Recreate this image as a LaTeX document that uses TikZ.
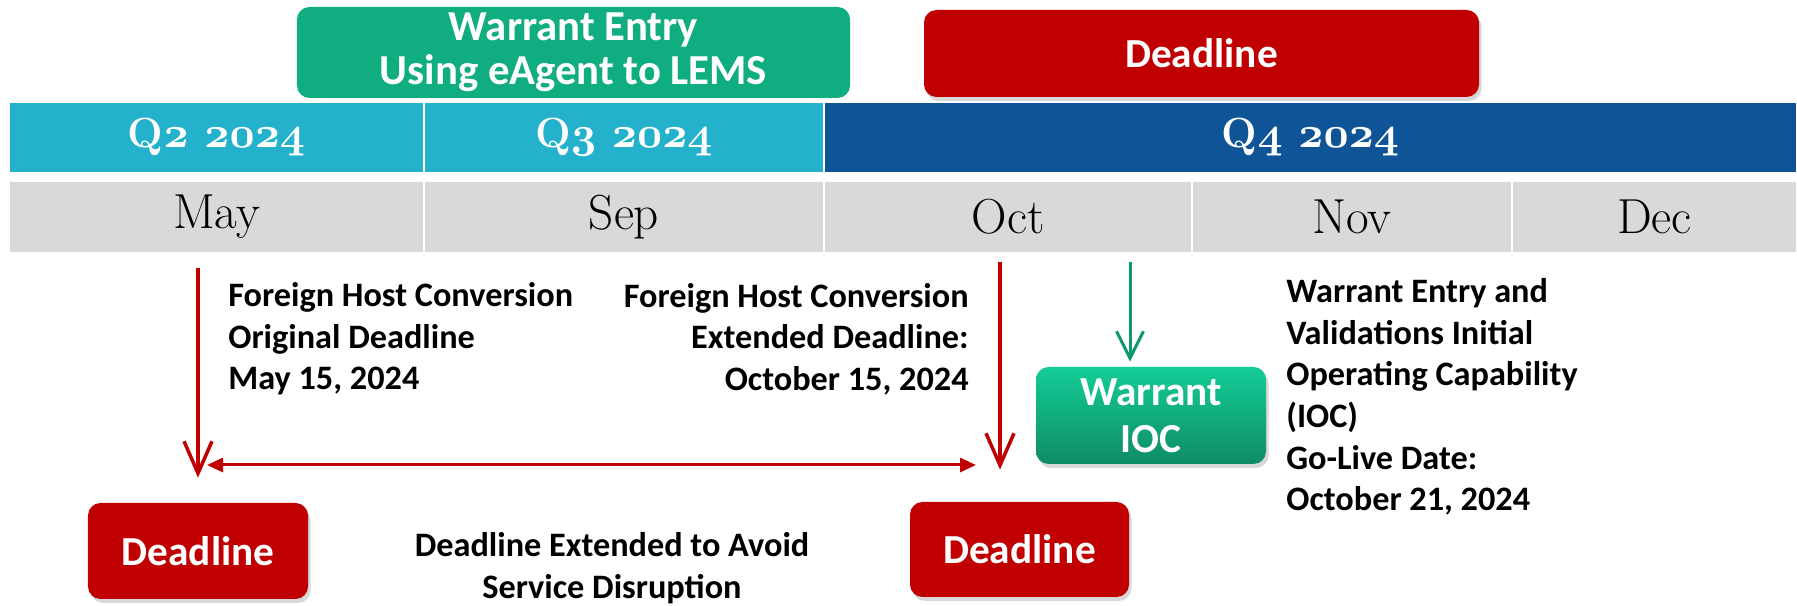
\documentclass[tikz,border=0pt]{standalone}
\usepackage{fontspec}
\newfontfamily\calib{Carlito}
\usetikzlibrary{arrows.meta}
\usetikzlibrary{shadows}
\definecolor{wgreen}{RGB}{16,173,128}
\definecolor{dred}{RGB}{192,0,0}
\definecolor{qblue}{RGB}{35,177,203}
\definecolor{qdark}{RGB}{14,84,150}
\definecolor{mgray}{RGB}{217,217,217}
\definecolor{agreen}{RGB}{14,152,110}
\definecolor{iochi}{RGB}{20,205,150}
\definecolor{ioclo}{RGB}{14,140,102}
% old style digits for the quarter labels
\newcommand{\osn}[1]{{\fontencoding{OML}\fontfamily{cmm}\fontseries{b}\fontshape{it}\selectfont #1}}
\tikzset{
  qcell/.style={fill=#1, draw=white, line width=0.4mm, minimum height=14.2mm, inner sep=0,
    text=white, font={\fontsize{24}{24}\selectfont\bfseries}},
  mcell/.style={fill=mgray, draw=white, line width=0.4mm, minimum height=14.4mm, inner sep=0,
    font={\fontsize{28}{28}\selectfont}},
  box/.style={rounded corners=2.5mm, text=white, inner sep=0, align=center,
    font={\calib\bfseries\fontsize{23.5}{25}\selectfont}},
  shad/.style={drop shadow={shadow xshift=0.5mm, shadow yshift=-0.8mm, opacity=0.3}},
  dlbox/.style={box, shad, fill=dred},
  note/.style={inner sep=0, font={\calib\bfseries\fontsize{19.5}{23.7}\selectfont}},
  redarrow/.style={draw=dred, line width=0.7mm, -{Straight Barb[length=6.4mm,width=5.6mm]}},
  greenarrow/.style={draw=agreen, line width=0.6mm, -{Straight Barb[length=5.4mm,width=5.4mm]}},
  extarrow/.style={draw=dred, line width=0.6mm, {Triangle[length=3.2mm,width=2.8mm]}-{Triangle[length=3.2mm,width=2.8mm]}}
}

\begin{document}
\begin{tikzpicture}[x=0.2mm, y=-0.2mm]
  \fill[white] (0,0) rectangle (1797,606);
  \useasboundingbox (0,0) rectangle (1797,606);

  % top boxes
  \node[box, fill=wgreen, minimum width=110.6mm, minimum height=18.2mm,
    font={\calib\bfseries\fontsize{24.3}{25}\selectfont}] (entry) at (573.5,52.5)
    {Warrant Entry\\Using eAgent to LEMS};
  \node[dlbox, minimum width=111mm, minimum height=17.4mm] (dltop) at (1201.5,53.5) {Deadline};

  % quarters
  \node[qcell=qblue, minimum width=83mm] (q2) at (216.5,137.5) {Q\osn{2} \osn{2024}};
  \node[qcell=qblue, minimum width=80mm] (q3) at (624,137.5) {Q\osn{3} \osn{2024}};
  \node[qcell=qdark, minimum width=194.6mm] (q4) at (1310.5,137.5) {Q\osn{4} \osn{2024}};

  % months
  \foreach \nm/\lbl/\xa/\xb in {may/May/9/424, sep/Sep/424/824, oct/Oct/824/1192,
      nov/Nov/1192/1512, dec/Dec/1512/1797}
    \node[mcell, minimum width={(\xb-\xa)*0.2mm}] (\nm) at ({(\xa+\xb)/2},217) {\lbl};

  % notes
  \node[note, anchor=west, align=left] (orig) at (228,339)
    {Foreign Host Conversion\\Original Deadline\\May 15, 2024};
  \node[note, anchor=east, align=right] (ext) at (969,339)
    {Foreign Host Conversion\\Extended Deadline:\\October 15, 2024};
  \node[note, anchor=west, align=left] (golive) at (1286,397)
    {Warrant Entry and\\Validations Initial\\Operating Capability\\(IOC)\\Go-Live Date:\\October 21, 2024};
  \node[note, align=center] (why) at (612,568) {Deadline Extended to Avoid\\Service Disruption};

  % lower boxes
  \node[dlbox, minimum width=44mm, minimum height=19.2mm] (dlmay) at (198,551) {Deadline};
  \node[dlbox, minimum width=43.8mm, minimum height=19mm] (dloct) at (1019.5,549.5) {Deadline};
  \node[box, shad, top color=iochi, bottom color=ioclo, minimum width=46mm, minimum height=19.4mm,
    font={\calib\bfseries\fontsize{23.5}{26.7}\selectfont}] (ioc) at (1151,415.5) {Warrant\\IOC};

  % arrows
  \coordinate (octdrop) at (1000,262);
  \coordinate (iocdrop) at (1130,262);
  \coordinate (extl) at (207,465);
  \coordinate (extr) at (976,465);
  \draw[redarrow, shorten <=2.8mm, shorten >=5mm] (may.south -| dlmay.north) -- (dlmay.north);
  \draw[redarrow, shorten >=6.4mm] (octdrop) -- (octdrop |- dloct.north);
  \draw[greenarrow, shorten >=1mm] (iocdrop) -- (iocdrop |- ioc.north);
  \draw[extarrow] (extl) -- (extr);
\end{tikzpicture}
\end{document}
